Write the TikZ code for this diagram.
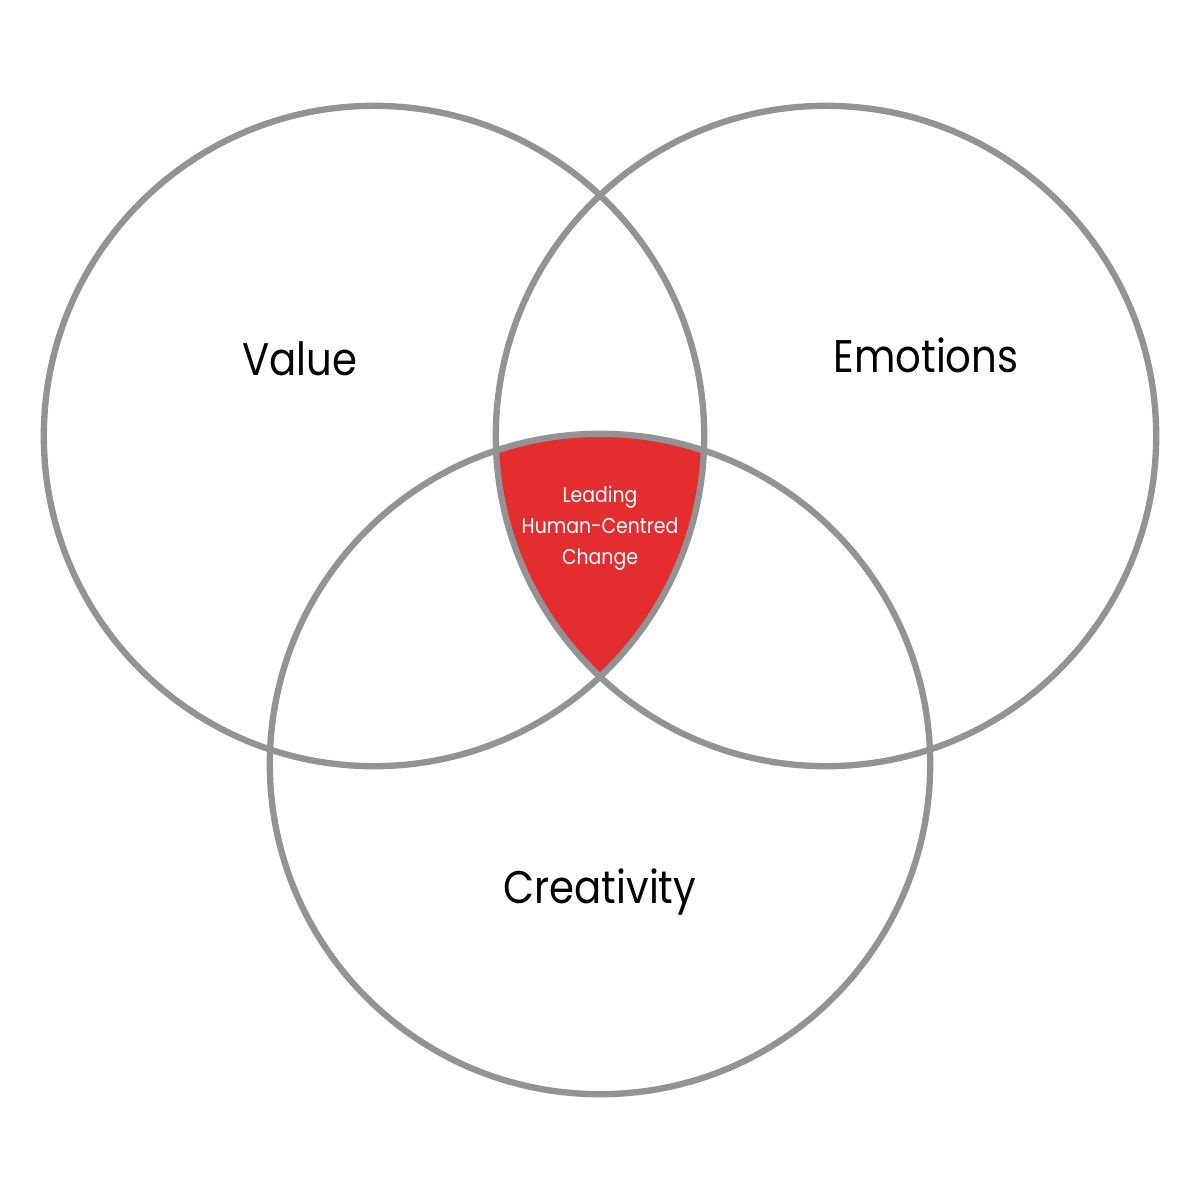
\documentclass[tikz,border=0pt]{standalone}
\usepackage{fontspec}
\setmainfont{Poppins}[FakeStretch=0.88]
\definecolor{ringgray}{HTML}{939396}
\definecolor{corered}{HTML}{E32D2F}
\begin{document}
\begin{tikzpicture}[x=0.01cm,y=-0.01cm,
  ring/.style={draw=ringgray,line width=1.8pt},
  biglabel/.style={font=\fontsize{13}{16}\selectfont,text=black,inner sep=0pt,anchor=base},
  corelabel/.style={font=\fontsize{6.1}{8.8}\selectfont,text=white,align=center,inner sep=0pt}]
\useasboundingbox (0,0) rectangle (1200,1200);
\fill[white] (0,0) rectangle (1200,1200);
\coordinate (cv) at (374,436);
\coordinate (ce) at (826,436);
\coordinate (cc) at (600,764);
\begin{scope}
  \clip (cv) circle[radius=330];
  \clip (ce) circle[radius=330];
  \fill[corered] (cc) circle[radius=330];
\end{scope}
\node[ring,circle,minimum size=6.6cm,inner sep=0pt] (value) at (cv) {};
\node[ring,circle,minimum size=6.6cm,inner sep=0pt] (emotions) at (ce) {};
\node[ring,circle,minimum size=6.6cm,inner sep=0pt] (creativity) at (cc) {};
\node[biglabel] (tv) at (300,375) {Value};
\node[biglabel] (te) at (926,372) {Emotions};
\node[biglabel] (tc) at (600,903) {Creativity};
\node[corelabel] (tl) at (600,528) {Leading\\Human-Centred\\Change};
\end{tikzpicture}
\end{document}
